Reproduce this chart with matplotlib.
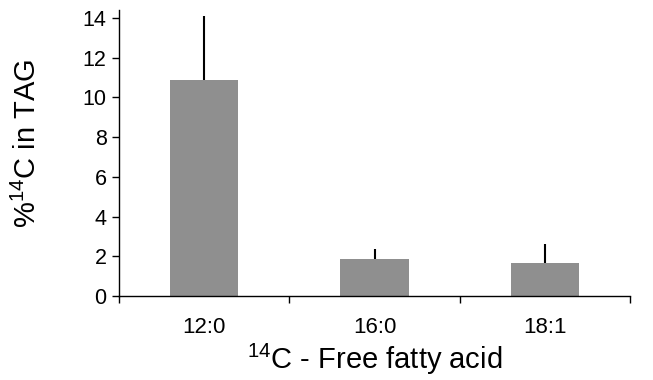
import matplotlib
matplotlib.use("Agg")
import matplotlib.pyplot as plt
import numpy as np

categories = ["12:0", "16:0", "18:1"]
values = [10.9, 1.86, 1.66]
err_up = [3.18, 0.51, 0.94]

plt.rcParams['font.family'] = ['Liberation Sans', 'DejaVu Sans']
plt.rcParams['mathtext.fontset'] = 'custom'
plt.rcParams['mathtext.rm'] = 'Liberation Sans'
plt.rcParams['mathtext.it'] = 'Liberation Sans'

fig = plt.figure(figsize=(6.53, 3.80), dpi=100)
ax = fig.add_axes([119/653, 84/380, 511/653, 286/380])

x = np.arange(len(categories))
ax.bar(x, values, width=0.4, color='#8f8f8f', zorder=2)
ax.errorbar(x, values, yerr=[np.zeros(len(values)), err_up], fmt='none',
            ecolor='black', elinewidth=1.5, capsize=0, zorder=3)

ax.set_xlim(-0.5, len(categories) - 0.5)
ax.set_ylim(0, 14.4)
ax.set_yticks(np.arange(0, 15, 2))
ax.set_xticks(x)
ax.set_xticklabels(categories)
ax.set_xticks(np.arange(-0.5, len(categories), 1), minor=True)
ax.tick_params(axis='x', which='major', length=0, pad=15, labelsize=16)
ax.tick_params(axis='x', which='minor', length=5, width=1, direction='out')
ax.tick_params(axis='y', length=5, width=1, pad=4, labelsize=15.5)

for s in ['top', 'right']:
    ax.spines[s].set_visible(False)
for s in ['left', 'bottom']:
    ax.spines[s].set_linewidth(1)
    ax.spines[s].set_color('black')

ax.set_ylabel(r'%$^{14}$C in TAG', fontsize=21)
ax.yaxis.set_label_coords(-0.151, 0.535)
ax.set_xlabel(r'$^{14}$C - Free fatty acid', fontsize=21, labelpad=3)

fig.savefig('out.png', dpi=100)
